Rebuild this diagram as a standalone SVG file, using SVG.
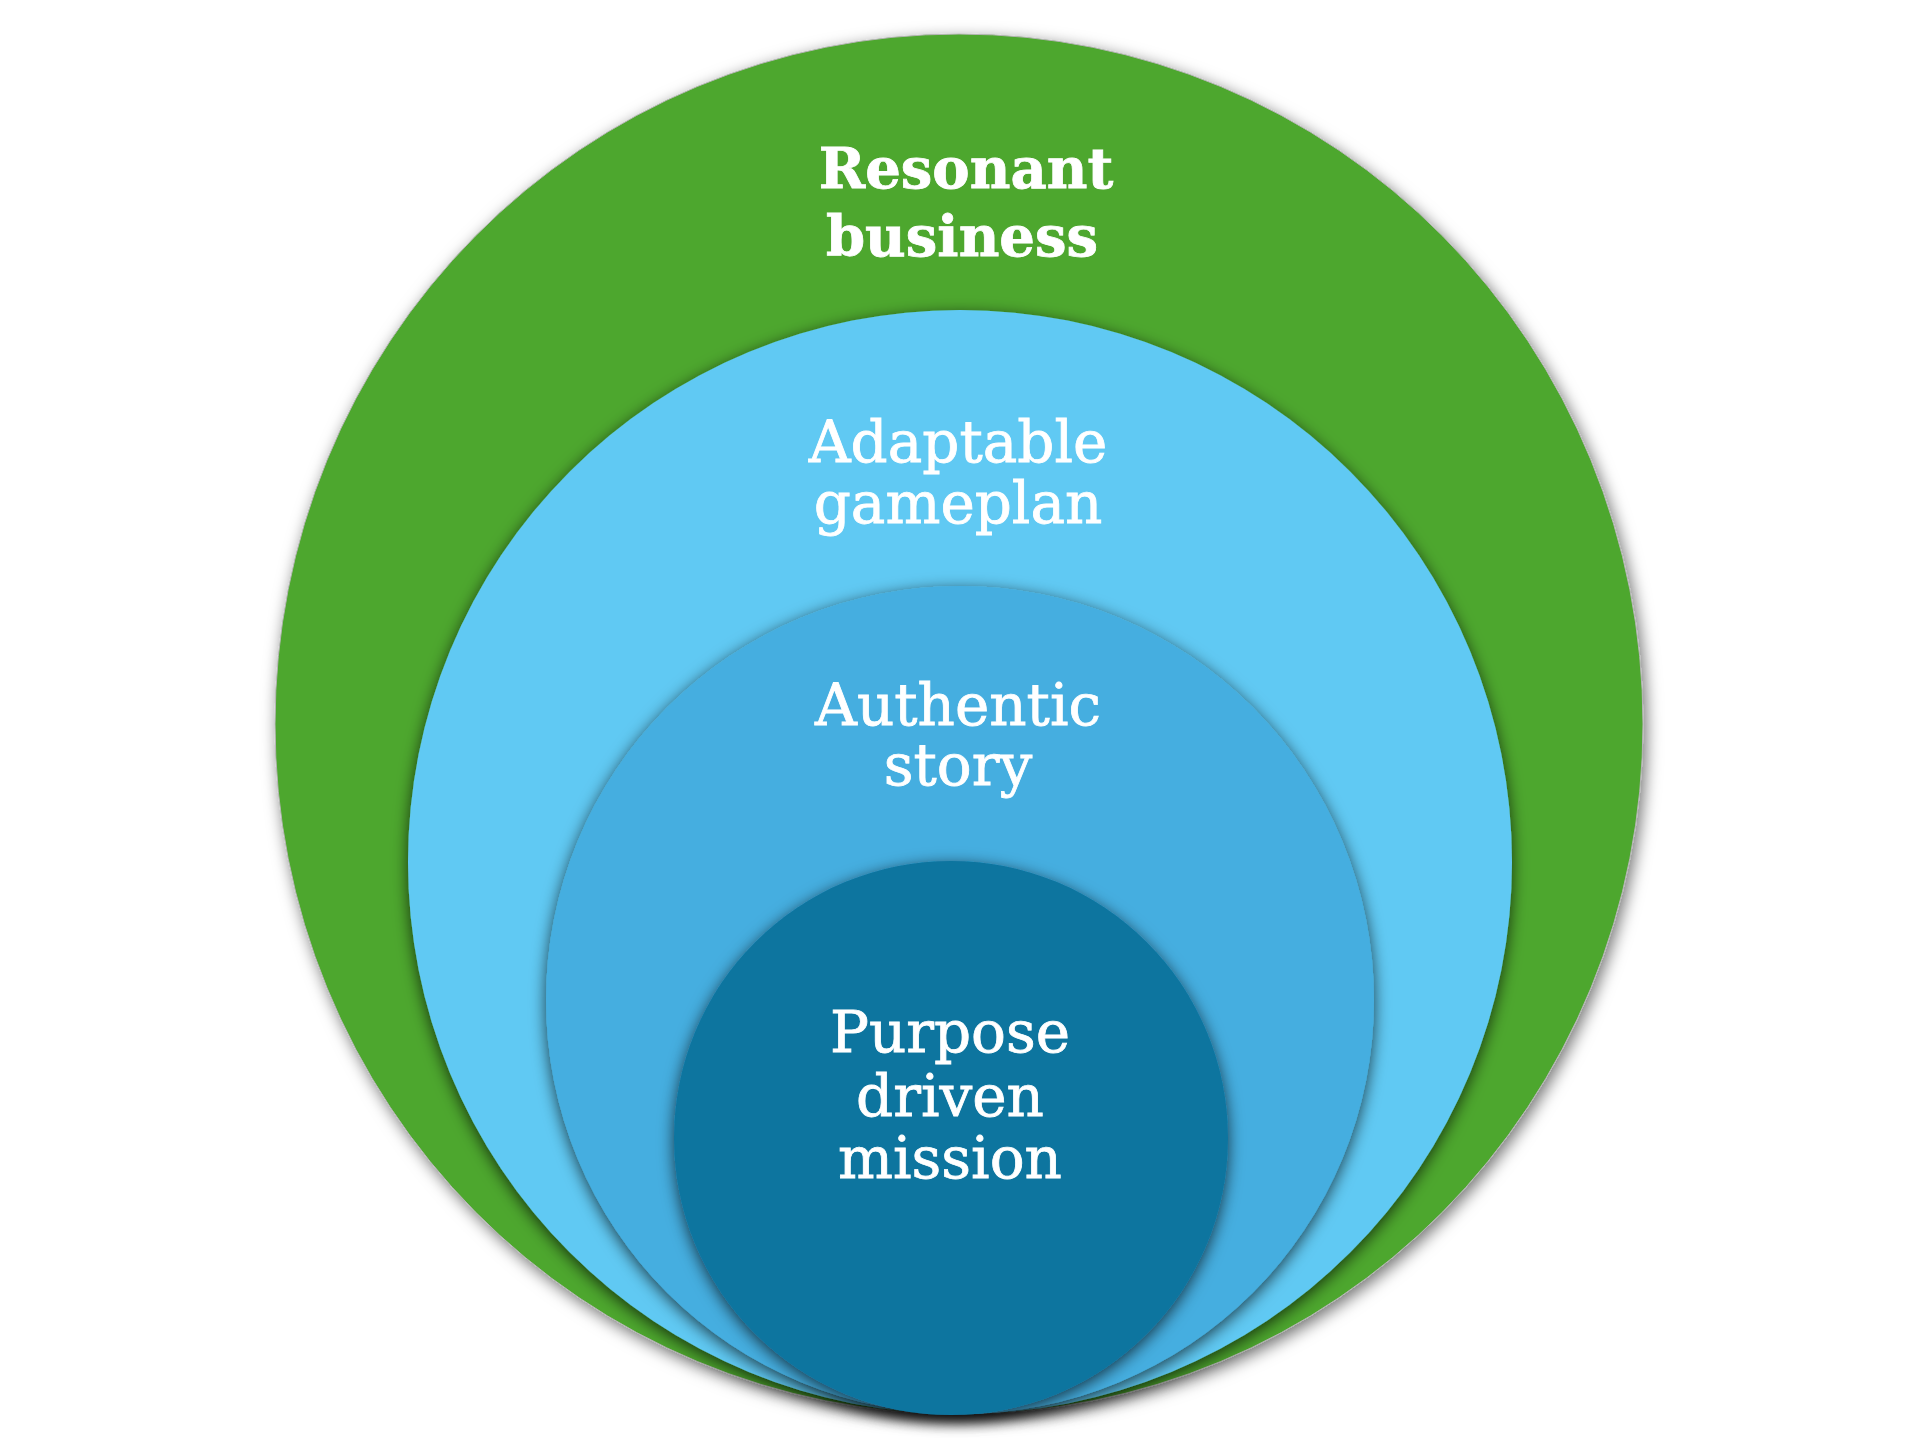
<svg xmlns="http://www.w3.org/2000/svg" width="1920" height="1452" viewBox="0 0 1920 1452">
  <defs>
    <filter id="outerShadow" x="-10%" y="-10%" width="120%" height="120%">
      <feDropShadow dx="3" dy="5" stdDeviation="8" flood-color="#000" flood-opacity="0.55"/>
    </filter>
    <filter id="innerShadow" x="-10%" y="-10%" width="120%" height="120%">
      <feDropShadow dx="0" dy="4" stdDeviation="8" flood-color="#000" flood-opacity="0.7"/>
    </filter>
    <style>
      .lbl { font-family: "DejaVu Serif", "Liberation Serif", serif; fill: #ffffff; stroke: #ffffff; stroke-width: 0.8; text-anchor: middle; }
      .reg { font-size: 58px; font-weight: normal; }
      .bold { font-size: 56px; font-weight: bold; }
    </style>
  </defs>
  <rect width="1920" height="1452" fill="#ffffff"/>

  <g id="resonant-business">
    <ellipse cx="959" cy="724" rx="684" ry="690" fill="#4ea72e" stroke="#b5b5b5" stroke-width="1" filter="url(#outerShadow)"/>
    <text class="lbl bold" x="966" y="188">Resonant</text>
    <text class="lbl bold" x="962" y="256">business</text>
  </g>

  <g id="adaptable-gameplan">
    <circle cx="960" cy="862" r="552" fill="#61c9f3" filter="url(#innerShadow)"/>
    <text class="lbl reg" x="958" y="462">Adaptable</text>
    <text class="lbl reg" x="958" y="523">gameplan</text>
  </g>

  <g id="authentic-story">
    <circle cx="960" cy="1000" r="414" fill="#45aee0" filter="url(#innerShadow)"/>
    <text class="lbl reg" x="958" y="725">Authentic</text>
    <text class="lbl reg" x="958" y="785">story</text>
  </g>

  <g id="purpose-driven-mission">
    <circle cx="951" cy="1138" r="277" fill="#0c749f" filter="url(#innerShadow)"/>
    <text class="lbl reg" x="950" y="1052">Purpose</text>
    <text class="lbl reg" x="950" y="1116">driven</text>
    <text class="lbl reg" x="950" y="1178">mission</text>
  </g>

  <g id="connectors"/>
</svg>
